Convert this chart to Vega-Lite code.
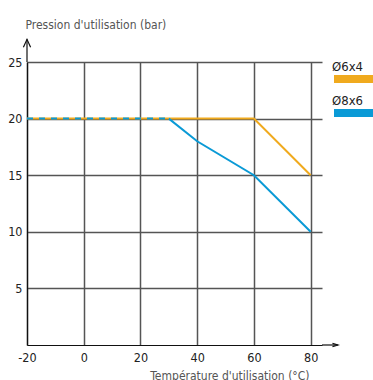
{
  "$schema": "https://vega.github.io/schema/vega-lite/v6.json",
  "width": 295,
  "height": 283,
  "autosize": {"type": "none"},
  "padding": {"left": 27, "top": 62, "right": 51, "bottom": 35},
  "background": "white",
  "config": {"view": {"stroke": null}, "font": "DejaVu Sans Condensed"},
  "data": {"values": [
    {"serie": "Ø6x4", "t": -20, "p": 20},
    {"serie": "Ø6x4", "t": 60, "p": 20},
    {"serie": "Ø6x4", "t": 80, "p": 15},
    {"serie": "Ø8x6", "t": -20, "p": 20},
    {"serie": "Ø8x6", "t": 30, "p": 20},
    {"serie": "Ø8x6", "t": 40, "p": 18},
    {"serie": "Ø8x6", "t": 60, "p": 15},
    {"serie": "Ø8x6", "t": 80, "p": 10}
  ]},
  "layer": [
    {
      "transform": [{"filter": "datum.serie == 'Ø6x4' || datum.t >= 30"}],
      "mark": {"type": "line", "strokeWidth": 2, "clip": false},
      "encoding": {
        "x": {"field": "t", "type": "quantitative",
          "scale": {"domain": [-20, 84], "nice": false, "zero": false},
          "axis": {"values": [-20, 0, 20, 40, 60, 80], "grid": true, "gridColor": "#555555", "gridWidth": 1.5,
            "ticks": false, "domain": true, "domainColor": "#111111", "domainWidth": 1.2,
            "labelFontSize": 12.5, "labelPadding": 6, "labelColor": "#222222", "labelFlush": false,
            "labelExpr": "replace(datum.label, '−', '-')",
            "title": "Température d'utilisation (°C)", "titleX": 282, "titleY": 34, "titleAlign": "right",
            "titleBaseline": "alphabetic", "titleFontWeight": "normal", "titleFontSize": 12, "titleColor": "#555555"}},
        "y": {"field": "p", "type": "quantitative",
          "scale": {"domain": [0, 25], "nice": false, "zero": true},
          "axis": {"values": [5, 10, 15, 20, 25], "grid": true, "gridColor": "#555555", "gridWidth": 1.5,
            "ticks": false, "domain": true, "domainColor": "#111111", "domainWidth": 1.2,
            "labelFontSize": 12.5, "labelPadding": 5, "labelColor": "#222222", "labelFlush": false,
            "title": "Pression d'utilisation (bar)", "titleAngle": 0, "titleX": -2, "titleY": -34, "titleAlign": "left",
            "titleBaseline": "alphabetic", "titleFontWeight": "normal", "titleFontSize": 12, "titleColor": "#555555"}},
        "color": {"field": "serie", "type": "nominal",
          "scale": {"domain": ["Ø6x4", "Ø8x6"], "range": ["#F0AA1E", "#0A9AD6"]},
          "legend": {"title": null, "orient": "none", "legendX": 308, "legendY": 0, "padding": 0,
            "symbolType": "M-2,1.6H5.8", "symbolSize": 100, "symbolStrokeWidth": 8,
            "labelOffset": -21, "labelFontSize": 13, "labelColor": "#222222", "labelBaseline": "alphabetic", "rowPadding": 0}}
      }
    },
    {
      "transform": [{"filter": "datum.serie == 'Ø8x6' && datum.t <= 30"}],
      "mark": {"type": "line", "strokeWidth": 2, "strokeDash": [6, 6], "clip": false},
      "encoding": {
        "x": {"field": "t", "type": "quantitative"},
        "y": {"field": "p", "type": "quantitative"},
        "color": {"field": "serie", "type": "nominal", "legend": null}
      }
    },
    {
      "data": {"values": [{}]},
      "mark": {"type": "rule", "color": "#111111", "strokeWidth": 1.2},
      "encoding": {"x": {"datum": -20}, "y": {"datum": 25}, "y2": {"datum": 27}}
    },
    {
      "data": {"values": [{}]},
      "mark": {"type": "rule", "color": "#111111", "strokeWidth": 1.2},
      "encoding": {"x": {"datum": 84}, "x2": {"datum": 89.6}, "y": {"datum": 0}}
    },
    {
      "data": {"values": [{}]},
      "mark": {"type": "point", "shape": "M-0.45,1L0,0L0.45,1", "size": 256, "filled": false, "stroke": "#111111", "strokeWidth": 1.2, "opacity": 1},
      "encoding": {"x": {"datum": -20}, "y": {"datum": 27}}
    },
    {
      "data": {"values": [{}]},
      "mark": {"type": "point", "shape": "M-1.35,-0.4L0,0L-1.35,0.4", "size": 64, "filled": false, "stroke": "#111111", "strokeWidth": 1.2, "opacity": 1},
      "encoding": {"x": {"datum": 89.6}, "y": {"datum": 0}}
    }
  ]
}
